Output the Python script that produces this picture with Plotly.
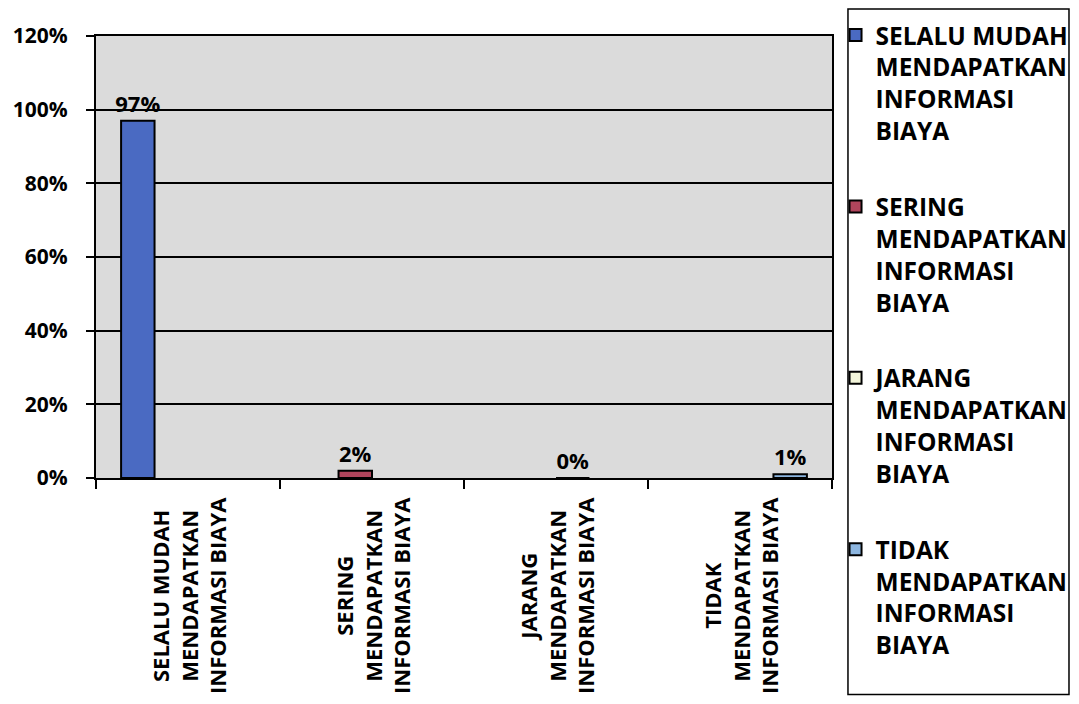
import plotly.graph_objects as go

categories = [
    "SELALU MUDAH MENDAPATKAN INFORMASI BIAYA",
    "SERING MENDAPATKAN INFORMASI BIAYA",
    "JARANG MENDAPATKAN INFORMASI BIAYA",
    "TIDAK MENDAPATKAN INFORMASI BIAYA",
]
tick_labels = [
    "SELALU MUDAH<br>MENDAPATKAN<br>INFORMASI BIAYA",
    "SERING<br>MENDAPATKAN<br>INFORMASI BIAYA",
    "JARANG<br>MENDAPATKAN<br>INFORMASI BIAYA",
    "TIDAK<br>MENDAPATKAN<br>INFORMASI BIAYA",
]
legend_labels = [
    "SELALU MUDAH<br>MENDAPATKAN<br>INFORMASI<br>BIAYA",
    "SERING<br>MENDAPATKAN<br>INFORMASI<br>BIAYA",
    "JARANG<br>MENDAPATKAN<br>INFORMASI<br>BIAYA",
    "TIDAK<br>MENDAPATKAN<br>INFORMASI<br>BIAYA",
]
values = [0.97, 0.02, 0.00, 0.01]
colors = ["#4A6AC2", "#B0455C", "#F3F5DA", "#8DB6E0"]

FONT = "Open Sans"

fig = go.Figure()
for i, cat in enumerate(categories):
    yvals = [values[i] if j == i else None for j in range(len(categories))]
    fig.add_trace(go.Bar(
        x=categories,
        y=yvals,
        name=legend_labels[i],
        legendgroup=f"g{i}",
        marker=dict(color=colors[i], line=dict(color="black", width=2)),
        texttemplate="%{y:.0%}",
        textposition="outside",
        constraintext="none",
        textfont=dict(family=FONT, size=22, color="black", weight="bold"),
        cliponaxis=False,
    ))

for cat, lab in zip(categories, tick_labels):
    fig.add_annotation(
        x=cat, xref="x", y=-0.267, yref="paper",
        text=lab, textangle=-90, showarrow=False,
        xanchor="center", yanchor="middle", align="center",
        font=dict(family=FONT, size=22, color="black", weight="bold"),
    )

# legend frame
fig.add_shape(type="rect", xref="paper", yref="paper",
              x0=1.0217, x1=1.3220, y0=-0.4898, y1=1.0611,
              line=dict(color="black", width=1.5), fillcolor="rgba(0,0,0,0)")

fig.update_layout(
    width=1063, height=688,
    margin=dict(l=88, r=239, t=28, b=218, autoexpand=False),
    paper_bgcolor="white",
    plot_bgcolor="#DBDBDB",
    barmode="group",
    bargap=0.2727,
    bargroupgap=0,
    showlegend=True,
    legend=dict(
        x=1.0048, xanchor="left", xref="paper",
        y=0.9933, yanchor="top", yref="container",
        maxheight=1,
        font=dict(family=FONT, size=24.5, color="black", weight="bold"),
        tracegroupgap=41, valign="top",
        bgcolor="rgba(0,0,0,0)", borderwidth=0,
        traceorder="grouped",
    ),
    font=dict(family=FONT, color="black"),
)
fig.update_xaxes(
    showticklabels=False,
    ticks="outside", ticklen=9, tickwidth=1.5, tickcolor="black",
    tickson="boundaries",
    showline=True, linecolor="black", linewidth=2, mirror=True,
    showgrid=False,
)
fig.update_yaxes(
    range=[0, 1.2], dtick=0.2, tickformat=".0%",
    ticks="outside", ticklen=8, tickwidth=1.5, tickcolor="black",
    tickfont=dict(family=FONT, size=21, color="black", weight="bold"),
    ticklabelstandoff=14,
    showline=True, linecolor="black", linewidth=2, mirror=True,
    showgrid=True, gridcolor="black", gridwidth=1.5,
    zeroline=False,
)

fig.write_html("out.html")
